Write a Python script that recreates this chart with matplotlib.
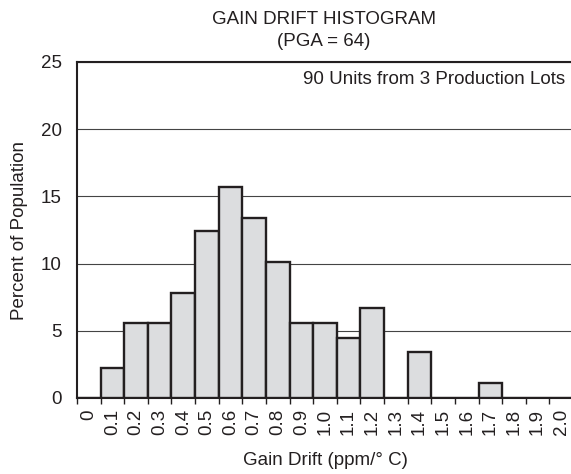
import matplotlib
matplotlib.use("Agg")
import matplotlib.pyplot as plt
import numpy as np

plt.rcParams['font.family'] = ['Liberation Sans', 'DejaVu Sans']

bin_labels = ["0", "0.1", "0.2", "0.3", "0.4", "0.5", "0.6", "0.7", "0.8", "0.9", "1.0",
              "1.1", "1.2", "1.3", "1.4", "1.5", "1.6", "1.7", "1.8", "1.9", "2.0"]
bin_centers = [0.0, 0.1, 0.2, 0.3, 0.4, 0.5, 0.6, 0.7, 0.8, 0.9, 1.0,
               1.1, 1.2, 1.3, 1.4, 1.5, 1.6, 1.7, 1.8, 1.9, 2.0]
percent = [0, 2.2, 5.6, 5.6, 7.8, 12.4, 15.7, 13.4, 10.1, 5.6, 5.6,
           4.5, 6.7, 0, 3.4, 0, 0, 1.1, 0, 0, 0]
y_ticks = [0, 5, 10, 15, 20, 25]

FS = 13.5
fig = plt.figure(figsize=(5.71, 4.74), dpi=100)
ax = fig.add_axes([77/571, 76/474, 496/571, 336/474])

ax.bar(bin_centers, percent, width=0.1, color="#dcdddf", edgecolor="#231f20",
       linewidth=1.7, zorder=3)

ax.set_xlim(-0.05, 2.05)
ax.set_ylim(0, 25)
ax.set_yticks(y_ticks)
ax.tick_params(axis='y', length=0, labelsize=FS, pad=11, colors="#231f20")
ax.yaxis.grid(True, color="#444444", linewidth=0.8, zorder=0)

ax.set_xticks(bin_centers)
ax.set_xticklabels(bin_labels, rotation=90, fontsize=FS, color="#231f20")
ax.tick_params(axis='x', which='major', length=0, pad=8)
edges = np.arange(-0.05, 2.06, 0.1)
ax.set_xticks(edges, minor=True)
ax.tick_params(axis='x', which='minor', length=4, width=1, direction='out', color="#231f20")

for side in ['left', 'top', 'bottom']:
    ax.spines[side].set_linewidth(1.5)
    ax.spines[side].set_color("#231f20")
ax.spines['right'].set_visible(False)

ax.set_ylabel("Percent of Population", fontsize=FS, color="#231f20", labelpad=9)
ax.set_xlabel("Gain Drift (ppm/° C)", fontsize=FS, color="#231f20", labelpad=12)

fig.text(324/571, 1 - 19/474, "GAIN DRIFT HISTOGRAM", ha='center', va='center',
         fontsize=FS, color="#231f20")
fig.text(324/571, 1 - 42/474, "(PGA = 64)", ha='center', va='center',
         fontsize=FS, color="#231f20")
ax.text(0.985, 0.948, "90 Units from 3 Production Lots", transform=ax.transAxes,
        ha='right', va='center', fontsize=FS, color="#231f20")

fig.savefig("out.png", dpi=100)
